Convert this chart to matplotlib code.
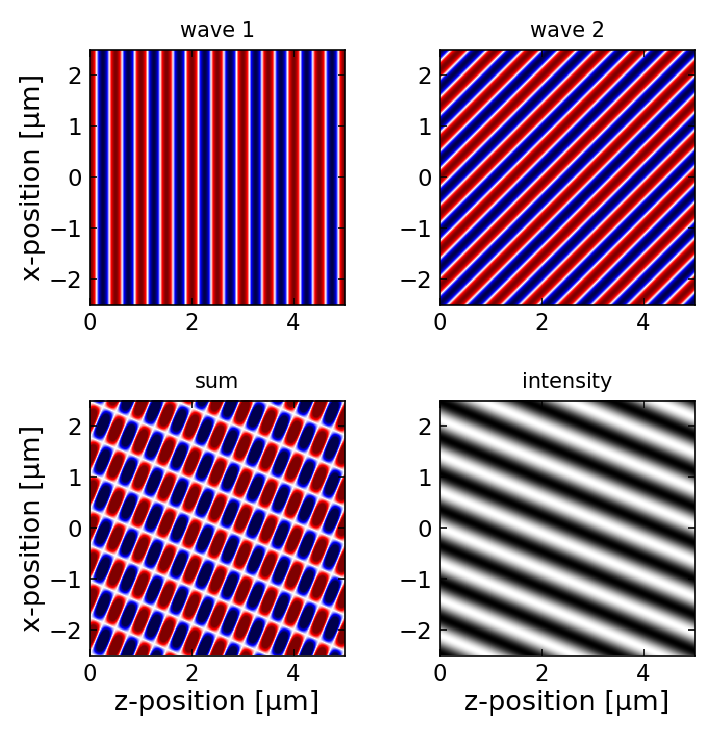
import numpy as np
import matplotlib
matplotlib.use('Agg')
import matplotlib.pyplot as plt

plt.rcParams.update({'xtick.direction': 'in',
                     'ytick.direction': 'in',
                     'xtick.top': True,
                     'ytick.right': True,
                     'xtick.labelsize': 11,
                     'ytick.labelsize': 11,
                     'axes.labelsize': 13})

# physical parameters
wavelength = 0.5          # µm
angle_deg = 45.0          # angle of wave 2 to the z axis
z_range = [0.0, 5.0]      # µm
x_range = [-2.5, 2.5]     # µm
n_points = 500

titles = ['wave 1', 'wave 2', 'sum', 'intensity']
xticks = [0, 2, 4]
yticks = [-2, -1, 0, 1, 2]

k = 2*np.pi/wavelength
th = np.deg2rad(angle_deg)
z = np.linspace(z_range[0], z_range[1], n_points)
x = np.linspace(x_range[0], x_range[1], n_points)
Z, X = np.meshgrid(z, x)

e1 = np.exp(1j*k*Z)
e2 = np.exp(1j*k*(Z*np.cos(th) - X*np.sin(th)))
fields = [e1.real, e2.real, (e1 + e2).real, np.abs(e1 + e2)**2]
cmaps = ['seismic', 'seismic', 'seismic', 'gray']
limits = [(-1, 1), (-1, 1), (-1, 1), (None, None)]

W, H = 713, 734
fig = plt.figure(figsize=(W/150, H/150), dpi=150)
# axes boxes in pixels: left, top
boxes = [(89.5, 49.5), (439.5, 49.5), (89.5, 400.5), (439.5, 400.5)]
size = 255

for i, (l, t) in enumerate(boxes):
    ax = fig.add_axes([l/W, 1 - (t + size)/H, size/W, size/H])
    ax.imshow(fields[i], cmap=cmaps[i], origin='lower', interpolation='nearest',
              vmin=limits[i][0], vmax=limits[i][1],
              extent=[z_range[0], z_range[1], x_range[0], x_range[1]], aspect='auto')
    ax.set_title(titles[i], fontsize=10)
    ax.set_xticks(xticks)
    ax.set_yticks(yticks)
    if i % 2 == 0:
        ax.set_ylabel('x-position [µm]', labelpad=1)
    if i >= 2:
        ax.set_xlabel('z-position [µm]', labelpad=2)

plt.savefig('out.png', dpi=150)
